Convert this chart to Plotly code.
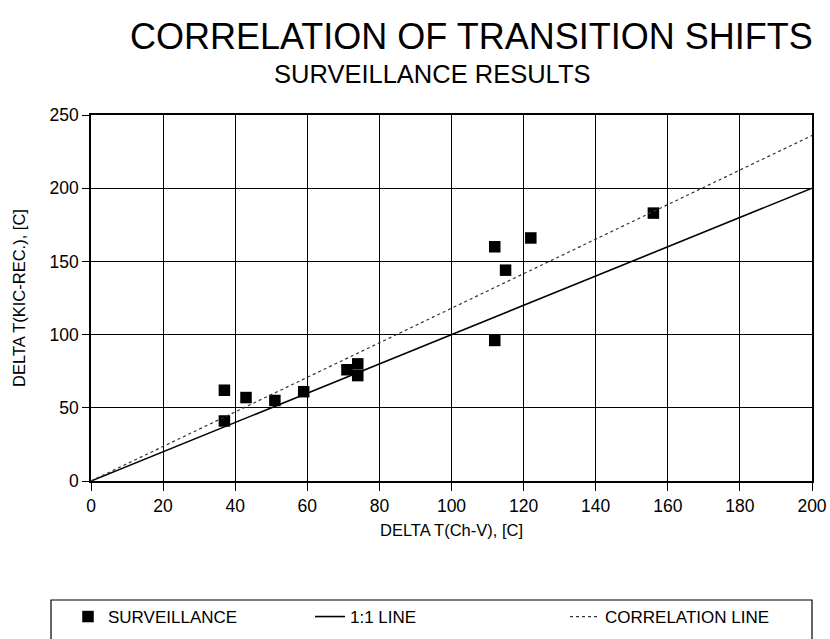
import plotly.graph_objects as go

# Surveillance data
surv_x = [37, 37, 43, 51, 59, 71, 74, 74, 112, 112, 115, 122, 156]
surv_y = [62, 41, 57, 55, 61, 76, 80, 72, 160, 96, 144, 166, 183]

# Lines
line11_x = [0, 200]
line11_y = [0, 200]
corr_x = [0, 200]
corr_y = [0, 236]

x_ticks = [0, 20, 40, 60, 80, 100, 120, 140, 160, 180, 200]
y_ticks = [0, 50, 100, 150, 200, 250]

title_text = "CORRELATION OF TRANSITION SHIFTS"
subtitle_text = "SURVEILLANCE RESULTS"

FONT = "Liberation Sans, Arial, Helvetica, sans-serif"

# plot area in pixels
L, R, T, B = 91, 812, 115, 481
W, H = R - L, B - T


def px(xp):
    return (xp - L) / W


def py(yp):
    return (B - yp) / H


fig = go.Figure()
fig.add_trace(go.Scatter(x=surv_x, y=surv_y, mode="markers", name="SURVEILLANCE",
                         legend="legend",
                         marker=dict(symbol="square", size=11.5, color="black",
                                     line=dict(width=0))))
fig.add_trace(go.Scatter(x=line11_x, y=line11_y, mode="lines", name="1:1 LINE",
                         legend="legend2",
                         line=dict(color="black", width=1.6)))
fig.add_trace(go.Scatter(x=corr_x, y=corr_y, mode="lines", name="CORRELATION LINE",
                         legend="legend3",
                         line=dict(color="#333", width=1.2, dash="dot")))

leg_common = dict(orientation="h", yanchor="middle", xanchor="left",
                  bgcolor="rgba(0,0,0,0)", borderwidth=0,
                  font=dict(size=17, family=FONT, color="black"))

fig.update_layout(
    width=830, height=639,
    margin=dict(l=L, r=830 - R, t=T, b=639 - B, autoexpand=False),
    paper_bgcolor="white", plot_bgcolor="white",
    font=dict(family=FONT, color="black", size=16),
    showlegend=True,
    legend=dict(x=px(68), y=py(617), **leg_common),
    legend2=dict(x=px(310), y=py(617), **leg_common),
    legend3=dict(x=px(565), y=py(617), **leg_common),
    annotations=[
        dict(text=title_text, x=px(471), y=py(36), xref="paper", yref="paper",
             xanchor="center", yanchor="middle", showarrow=False,
             font=dict(size=36, family=FONT, color="black")),
        dict(text=subtitle_text, x=px(432), y=py(74), xref="paper", yref="paper",
             xanchor="center", yanchor="middle", showarrow=False,
             font=dict(size=25.5, family=FONT, color="black")),
    ],
    shapes=[
        dict(type="rect", xref="paper", yref="paper", x0=px(51), x1=px(812),
             y0=py(660), y1=py(600), line=dict(color="black", width=1.2),
             fillcolor="rgba(0,0,0,0)"),
    ],
)
fig.update_xaxes(range=[0, 200], tickvals=x_ticks, showgrid=True, gridcolor="black", gridwidth=1,
                 showline=True, linecolor="black", linewidth=1.5, mirror=True,
                 ticks="outside", ticklen=8, tickcolor="black", zeroline=False,
                 automargin=False,
                 title=dict(text="DELTA T(Ch-V), [C]", font=dict(size=16.5), standoff=10),
                 tickfont=dict(size=17.5))
fig.update_yaxes(range=[0, 250], tickvals=y_ticks, showgrid=True, gridcolor="black", gridwidth=1,
                 showline=True, linecolor="black", linewidth=1.5, mirror=True,
                 ticks="outside", ticklen=7, tickcolor="black", zeroline=False,
                 automargin=False,
                 title=dict(text="DELTA T(KIC-REC.), [C]", font=dict(size=16.5), standoff=20),
                 tickfont=dict(size=17.5))

fig.write_html("out.html")
